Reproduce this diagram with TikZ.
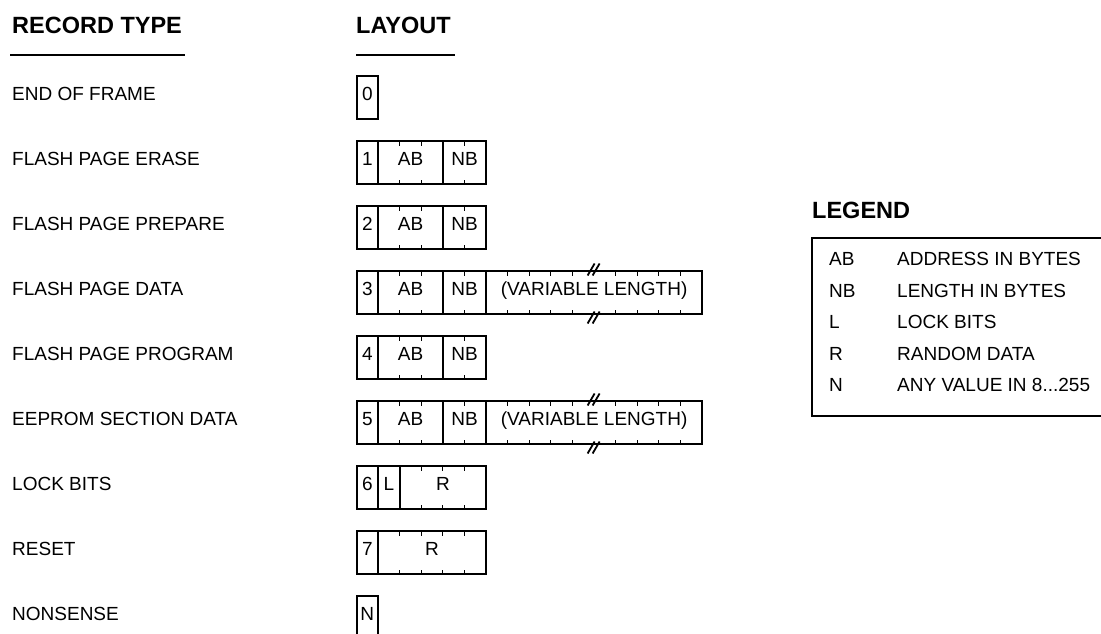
\documentclass[tikz,border=0pt]{standalone}
\usepackage{fontspec}
\setmainfont{Liberation Sans}
\newcommand\mkticks[2]{%
  \foreach \k in {#2}{%
    \draw[tickline] ([xshift=\k*21.6pt]#1.north west) -- ++(0,4.5);
    \draw[tickline] ([xshift=\k*21.6pt]#1.south west) -- ++(0,-4.5);
  }}
\newcommand\mkbreak[1]{%
  \draw[breakline] ([xshift=108pt]#1.north west) ++(-6.5,4.5) -- ++(7,-12);
  \draw[breakline] ([xshift=108pt]#1.north west) ++(-1.5,4.5) -- ++(7,-12);
  \draw[breakline] ([xshift=108pt]#1.south west) ++(-6.5,9.5) -- ++(7,-12);
  \draw[breakline] ([xshift=108pt]#1.south west) ++(-1.5,9.5) -- ++(7,-12);
}
\begin{document}
\begin{tikzpicture}[x=1pt,y=-1pt,
  lbl/.style={inner sep=0pt,anchor=base west,font=\fontsize{19}{22}\selectfont},
  hdr/.style={inner sep=0pt,anchor=base west,font=\bfseries\fontsize{23.5}{28}\selectfont},
  cell/.style={draw,line width=2pt,inner sep=0pt,outer sep=0pt,minimum width=#1*21.6pt,
    minimum height=43pt,text height=24pt,text depth=19pt,anchor=west,
    font=\fontsize{19}{22}\selectfont},
  tickline/.style={line width=1pt},
  breakline/.style={line width=1.8pt},
  rule/.style={line width=2pt}
  ]
\useasboundingbox (0,0) rectangle (1101,633);

% headers
\node[hdr] (hrec) at (12,33) {RECORD TYPE};
\node[hdr] (hlay) at (356,33) {LAYOUT};
\draw[rule] (10,55) -- (185,55);
\draw[rule] (356,55) -- (455,55);

% row labels
\node[lbl] (l0) at (12,100.5) {END OF FRAME};
\node[lbl] (l1) at (12,165.5) {FLASH PAGE ERASE};
\node[lbl] (l2) at (12,230.5) {FLASH PAGE PREPARE};
\node[lbl] (l3) at (12,295.5) {FLASH PAGE DATA};
\node[lbl] (l4) at (12,360.5) {FLASH PAGE PROGRAM};
\node[lbl] (l5) at (12,425.5) {EEPROM SECTION DATA};
\node[lbl] (l6) at (12,490.5) {LOCK BITS};
\node[lbl] (l7) at (12,555.5) {RESET};
\node[lbl] (l8) at (12,620.5) {NONSENSE};

% row 0
\node[cell=1] (r0a) at (356.5,97.5) {0};
% row 1
\node[cell=1] (r1a) at (356.5,162.5) {1};
\node[cell=3] (r1b) at (r1a.east) {AB};
\node[cell=2] (r1c) at (r1b.east) {NB};
\mkticks{r1b}{1,2}\mkticks{r1c}{1}
% row 2
\node[cell=1] (r2a) at (356.5,227.5) {2};
\node[cell=3] (r2b) at (r2a.east) {AB};
\node[cell=2] (r2c) at (r2b.east) {NB};
\mkticks{r2b}{1,2}\mkticks{r2c}{1}
% row 3
\node[cell=1] (r3a) at (356.5,292.5) {3};
\node[cell=3] (r3b) at (r3a.east) {AB};
\node[cell=2] (r3c) at (r3b.east) {NB};
\node[cell=10] (r3d) at (r3c.east) {(VARIABLE LENGTH)};
\mkticks{r3b}{1,2}\mkticks{r3c}{1}\mkticks{r3d}{1,2,3,4,6,7,8,9}
\mkbreak{r3d}
% row 4
\node[cell=1] (r4a) at (356.5,357.5) {4};
\node[cell=3] (r4b) at (r4a.east) {AB};
\node[cell=2] (r4c) at (r4b.east) {NB};
\mkticks{r4b}{1,2}\mkticks{r4c}{1}
% row 5
\node[cell=1] (r5a) at (356.5,422.5) {5};
\node[cell=3] (r5b) at (r5a.east) {AB};
\node[cell=2] (r5c) at (r5b.east) {NB};
\node[cell=10] (r5d) at (r5c.east) {(VARIABLE LENGTH)};
\mkticks{r5b}{1,2}\mkticks{r5c}{1}\mkticks{r5d}{1,2,3,4,6,7,8,9}
\mkbreak{r5d}
% row 6
\node[cell=1] (r6a) at (356.5,487.5) {6};
\node[cell=1] (r6b) at (r6a.east) {L};
\node[cell=4] (r6c) at (r6b.east) {R};
\mkticks{r6c}{1,2,3}
% row 7
\node[cell=1] (r7a) at (356.5,552.5) {7};
\node[cell=5] (r7b) at (r7a.east) {R};
\mkticks{r7b}{1,2,3,4}
% row 8
\node[cell=1] (r8a) at (356.5,617.5) {N};

% legend
\node[hdr] (leg) at (812,218) {LEGEND};
\draw[rule] (1112,238) -- (812,238) -- (812,416) -- (1112,416);
\node[lbl] (k1) at (829,265.5) {AB};
\node[lbl] (d1) at (897,265.5) {ADDRESS IN BYTES};
\node[lbl] (k2) at (829,297.1) {NB};
\node[lbl] (d2) at (897,297.1) {LENGTH IN BYTES};
\node[lbl] (k3) at (829,328.7) {L};
\node[lbl] (d3) at (897,328.7) {LOCK BITS};
\node[lbl] (k4) at (829,360.3) {R};
\node[lbl] (d4) at (897,360.3) {RANDOM DATA};
\node[lbl] (k5) at (829,391.9) {N};
\node[lbl] (d5) at (897,391.9) {ANY VALUE IN 8...255};
\end{tikzpicture}
\end{document}
